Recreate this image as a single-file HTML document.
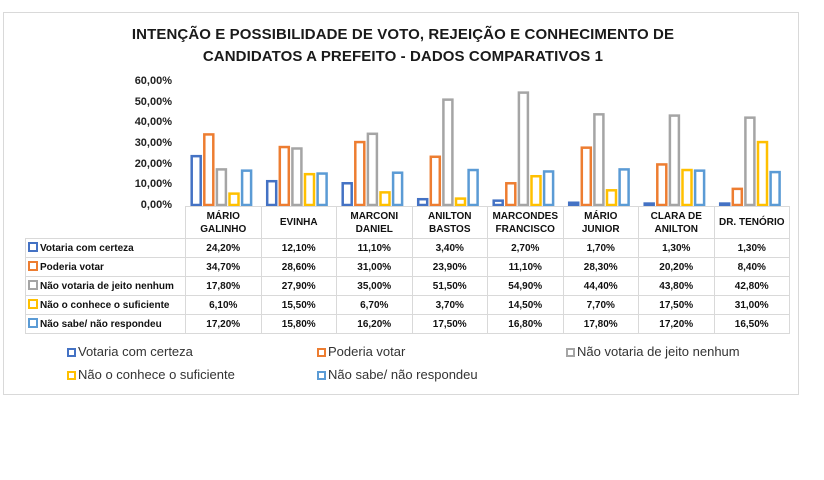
<!DOCTYPE html>
<html><head><meta charset="utf-8"><style>
body{margin:0;background:#fff;width:824px;height:480px;overflow:hidden;position:relative;font-family:"Liberation Sans",sans-serif;}
.frame{position:absolute;left:3px;top:12px;width:796px;height:383px;border:1px solid #d9d9d9;box-sizing:border-box;}
.title{position:absolute;left:0;width:806px;top:24px;text-align:center;font-weight:bold;font-size:15px;line-height:22px;color:#1a1a1a;letter-spacing:0.1px}
.yl{position:absolute;right:652px;font-weight:bold;font-size:11px;color:#222;}
table{position:absolute;left:25px;top:206px;border-collapse:collapse;font-weight:bold;font-size:10px;color:#111;}
td{border:1px solid #d9d9d9;text-align:center;padding:0;height:18px;}
td.h{height:31px;line-height:13px;}
td.l{text-align:left;width:157px;white-space:nowrap;padding-left:2px}
td.c{width:74.5px}
.m{display:inline-block;width:6px;height:6px;border:2px solid;margin-right:2px;vertical-align:-1px;background:#fff}
.leg{position:absolute;font-size:13px;color:#333;white-space:nowrap}
.leg .m{width:5px;height:5px;margin-right:2px}
</style></head><body>
<div class="frame"></div>
<div class="title">INTENÇÃO E POSSIBILIDADE DE VOTO, REJEIÇÃO E CONHECIMENTO DE<br>CANDIDATOS A PREFEITO - DADOS COMPARATIVOS 1</div>
<div class="yl" style="top:75px">60,00%</div>
<div class="yl" style="top:96px">50,00%</div>
<div class="yl" style="top:116px">40,00%</div>
<div class="yl" style="top:137px">30,00%</div>
<div class="yl" style="top:158px">20,00%</div>
<div class="yl" style="top:178px">10,00%</div>
<div class="yl" style="top:199px">0,00%</div>
<svg id="bars" width="824" height="480" style="position:absolute;left:0;top:0"></svg>
<table>
<tr><td class="l h" style="border:none"></td><td class="c h">MÁRIO<br>GALINHO</td><td class="c h">EVINHA</td><td class="c h">MARCONI<br>DANIEL</td><td class="c h">ANILTON<br>BASTOS</td><td class="c h">MARCONDES<br>FRANCISCO</td><td class="c h">MÁRIO<br>JUNIOR</td><td class="c h">CLARA DE<br>ANILTON</td><td class="c h">DR. TENÓRIO</td></tr>
<tr><td class="l"><span class="m" style="border-color:#4472C4"></span>Votaria com certeza</td><td>24,20%</td><td>12,10%</td><td>11,10%</td><td>3,40%</td><td>2,70%</td><td>1,70%</td><td>1,30%</td><td>1,30%</td></tr>
<tr><td class="l"><span class="m" style="border-color:#ED7D31"></span>Poderia votar</td><td>34,70%</td><td>28,60%</td><td>31,00%</td><td>23,90%</td><td>11,10%</td><td>28,30%</td><td>20,20%</td><td>8,40%</td></tr>
<tr><td class="l"><span class="m" style="border-color:#A5A5A5"></span>Não votaria de jeito nenhum</td><td>17,80%</td><td>27,90%</td><td>35,00%</td><td>51,50%</td><td>54,90%</td><td>44,40%</td><td>43,80%</td><td>42,80%</td></tr>
<tr><td class="l"><span class="m" style="border-color:#FFC000"></span>Não o conhece o suficiente</td><td>6,10%</td><td>15,50%</td><td>6,70%</td><td>3,70%</td><td>14,50%</td><td>7,70%</td><td>17,50%</td><td>31,00%</td></tr>
<tr><td class="l"><span class="m" style="border-color:#5B9BD5"></span>Não sabe/ não respondeu</td><td>17,20%</td><td>15,80%</td><td>16,20%</td><td>17,50%</td><td>16,80%</td><td>17,80%</td><td>17,20%</td><td>16,50%</td></tr>
</table>
<div class="leg" style="left:67px;top:344px"><span class="m" style="border-color:#4472C4"></span>Votaria com certeza</div>
<div class="leg" style="left:317px;top:344px"><span class="m" style="border-color:#ED7D31"></span>Poderia votar</div>
<div class="leg" style="left:566px;top:344px"><span class="m" style="border-color:#A5A5A5"></span>Não votaria de jeito nenhum</div>
<div class="leg" style="left:67px;top:367px"><span class="m" style="border-color:#FFC000"></span>Não o conhece o suficiente</div>
<div class="leg" style="left:317px;top:367px"><span class="m" style="border-color:#5B9BD5"></span>Não sabe/ não respondeu</div>
<script>
var d=[[24.2,12.1,11.1,3.4,2.7,1.7,1.3,1.3],[34.7,28.6,31,23.9,11.1,28.3,20.2,8.4],[17.8,27.9,35,51.5,54.9,44.4,43.8,42.8],[6.1,15.5,6.7,3.7,14.5,7.7,17.5,31],[17.2,15.8,16.2,17.5,16.8,17.8,17.2,16.5]];
var c=["#4472C4","#ED7D31","#A5A5A5","#FFC000","#5B9BD5"];
var s="";
for(var i=0;i<8;i++){var gx=183+75.5*i;for(var j=0;j<5;j++){var h=d[j][i]*2.07;var x=gx+8.7+12.6*j;s+='<rect x="'+x+'" y="'+(205-h+1.25)+'" width="9" height="'+Math.max(h-1.25,0.5)+'" fill="#fff" stroke="'+c[j]+'" stroke-width="2.5"/>';}}
document.getElementById("bars").innerHTML=s;
</script>
</body></html>
